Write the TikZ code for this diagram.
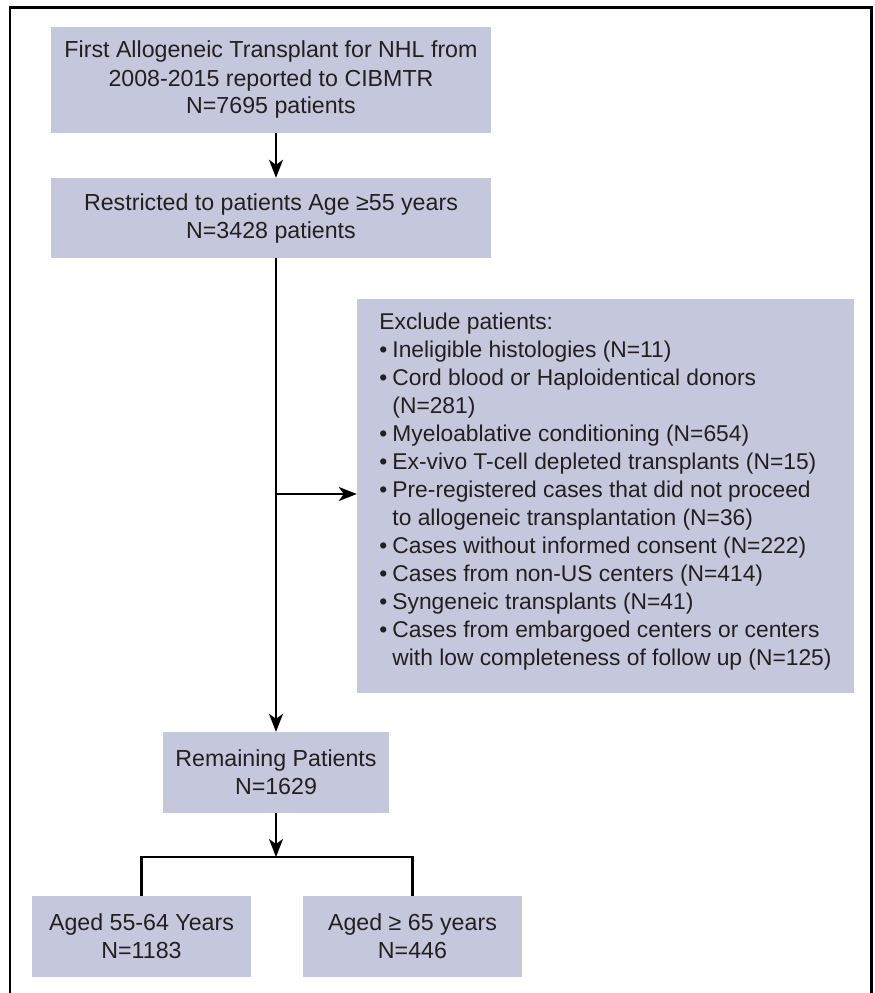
\documentclass[tikz,border=0pt]{standalone}
\usepackage{fontspec}
\setmainfont{Liberation Sans}
\usetikzlibrary{arrows.meta}
\definecolor{boxfill}{RGB}{197,200,221}
\definecolor{txt}{RGB}{35,31,32}
\begin{document}
\begin{tikzpicture}[x=1pt,y=-1pt,
  box/.style={fill=boxfill, draw=none, inner sep=0pt, align=center, text=txt,
    font=\fontsize{23.2}{28}\selectfont},
  conn/.style={line width=2.2pt, draw=black},
  arr/.style={conn, -{Stealth[length=18pt,width=14pt,inset=5pt]}},
  frame/.style={line width=2.8pt, draw=black}
]
\useasboundingbox (0,0) rectangle (875,993);
\draw[frame] (10,1000) -- (10,7.5) -- (871.5,7.5) -- (871.5,1000);

\node[box, minimum width=440pt, minimum height=106pt] (b1) at (271,80)
  {First Allogeneic Transplant for NHL from\\2008-2015 reported to CIBMTR\\N=7695 patients};
\node[box, minimum width=440pt, minimum height=80pt] (b2) at (271,218)
  {Restricted to patients Age ≥55 years\\N=3428 patients};
\node[box, minimum width=497pt, minimum height=394pt, align=left,
    font=\fontsize{22.8}{28}\selectfont] (ex) at (605.5,496)
  {Exclude patients:\\
   \makebox[13pt][l]{•}Ineligible histologies (N=11)\\
   \makebox[13pt][l]{•}Cord blood or Haploidentical donors\\
   \hspace*{13pt}(N=281)\\
   \makebox[13pt][l]{•}Myeloablative conditioning (N=654)\\
   \makebox[13pt][l]{•}Ex-vivo T-cell depleted transplants (N=15)\\
   \makebox[13pt][l]{•}Pre-registered cases that did not proceed\\
   \hspace*{13pt}to allogeneic transplantation (N=36)\\
   \makebox[13pt][l]{•}Cases without informed consent (N=222)\\
   \makebox[13pt][l]{•}Cases from non-US centers (N=414)\\
   \makebox[13pt][l]{•}Syngeneic transplants (N=41)\\
   \makebox[13pt][l]{•}Cases from embargoed centers or centers\\
   \hspace*{13pt}with low completeness of follow up (N=125)\rule[-13pt]{0pt}{1pt}};
\node[box, minimum width=226pt, minimum height=81pt] (rem) at (276,772.5)
  {Remaining Patients\\N=1629};
\node[box, minimum width=219pt, minimum height=81pt] (young) at (141.5,936.5)
  {Aged 55-64 Years\\N=1183};
\node[box, minimum width=219pt, minimum height=81pt] (old) at (412.5,936.5)
  {Aged ≥ 65 years\\N=446};

\coordinate (j) at (276,494);
\coordinate (split) at (276,857);

\draw[arr] (b1.south -| j) -- (b2.north -| j);
\draw[arr] (b2.south -| j) -- (rem.north);
\draw[arr] (j) -- (ex.west |- j);
\draw[arr] (rem.south) -- (split);
\draw[conn] (young.north) |- (split) -| (old.north);
\end{tikzpicture}
\end{document}
